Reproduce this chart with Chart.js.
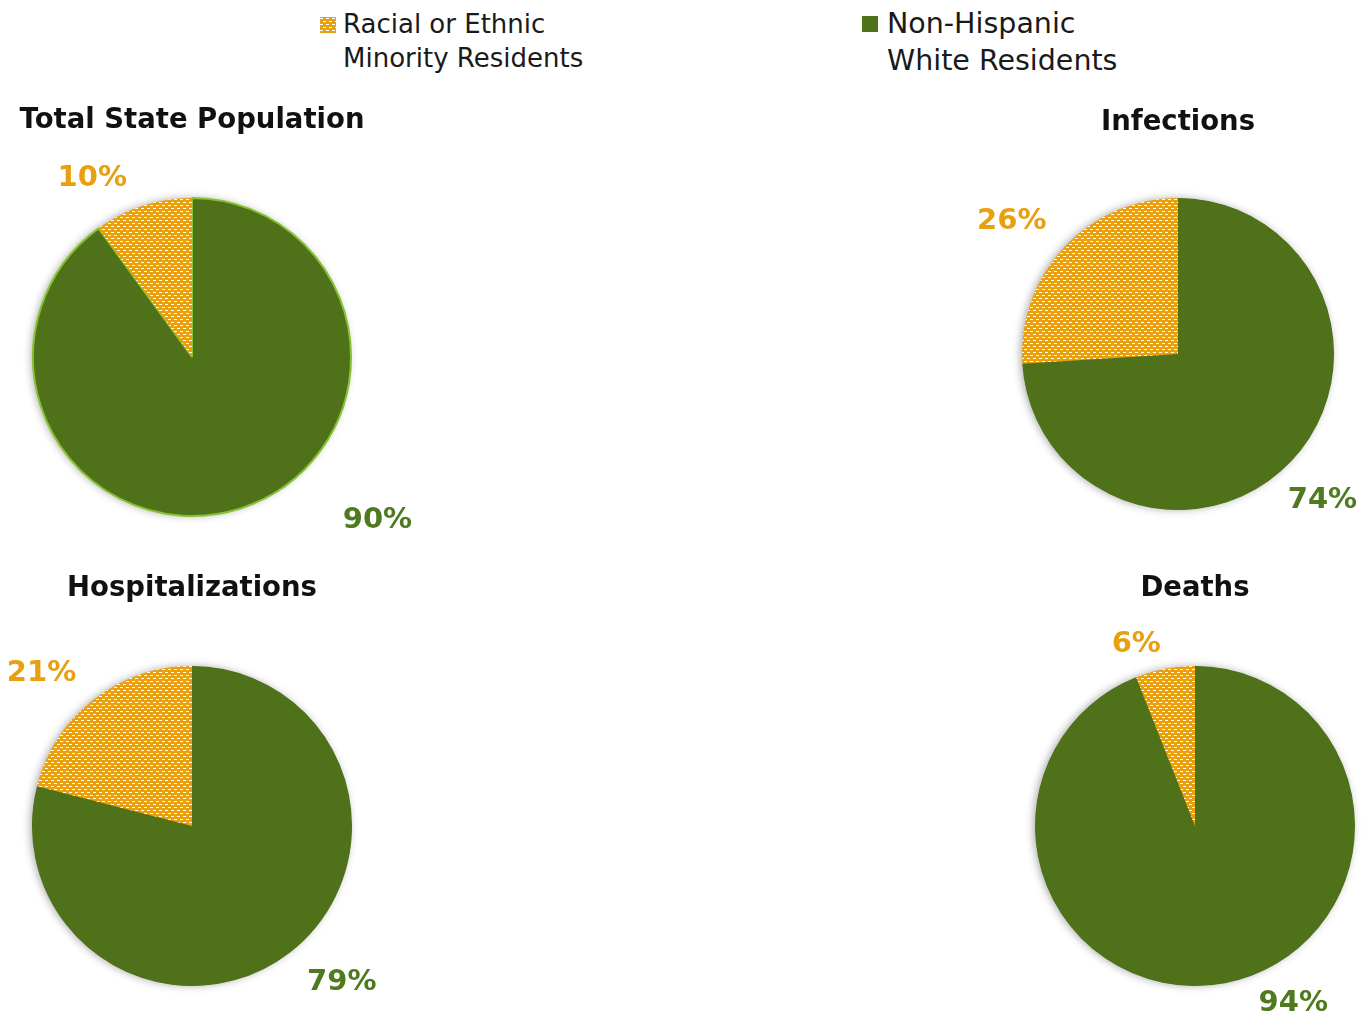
<!DOCTYPE html>
<html>
<head>
<meta charset="utf-8">
<script src="https://cdn.jsdelivr.net/npm/chart.js@4"></script>
<style>
  html, body { margin: 0; padding: 0; background: #fff; }
  body { width: 1364px; height: 1015px; position: relative; overflow: hidden; font-family: "DejaVu Sans", Verdana, sans-serif; }
  .panel { position: absolute; }
  .legend-item { position: absolute; font-size: 26px; line-height: 34px; color: #1a1a1a; }
  .legend-box { position: absolute; width: 16px; height: 16px; }
</style>
</head>
<body>
<div class="legend-box" id="swatchMinority" style="left:320px; top:17px;"></div>
<div class="legend-item" id="legMinority" style="left:343px; top:7px;"></div>
<div class="legend-box" id="swatchWhite" style="left:862px; top:16px; background:#4e7119;"></div>
<div class="legend-item" id="legWhite" style="left:887px; top:5px; font-size:28.5px; line-height:37px;"></div>

<div class="panel" style="left:0; top:90px;"><canvas id="pie0"></canvas></div>
<div class="panel" style="left:682px; top:90px;"><canvas id="pie1"></canvas></div>
<div class="panel" style="left:0; top:560px;"><canvas id="pie2"></canvas></div>
<div class="panel" style="left:682px; top:560px;"><canvas id="pie3"></canvas></div>

<script>
// ---- data ----
const seriesNames = ['Non-Hispanic White Residents', 'Racial or Ethnic Minority Residents'];
const legendLines = [['Racial or Ethnic', 'Minority Residents'], ['Non-Hispanic', 'White Residents']];
const panelTitles = ['Total State Population', 'Infections', 'Hospitalizations', 'Deaths'];
const whiteShare = [90, 74, 79, 94];
const minorityShare = [10, 26, 21, 6];

// ---- look ----
const GREEN = '#4e7119';
const GREEN_TEXT = '#4f7a1e';
const ORANGE = '#e9a010';

// panel boxes (page px), pie centre / radius, title y, label spots (angle from top clockwise, distance)
const panels = [
    { left: 0,   top: 90,  w: 682, h: 470, cx: 192,  cy: 356, r: 160, titleY: 121, rim: true,
      spots: [[131.2, 248], [331, 207]] },
    { left: 682, top: 90,  w: 682, h: 470, cx: 1178, cy: 354, r: 156, titleY: 123,
      spots: [[135.2, 205], [308.7, 213]] },
    { left: 0,   top: 560, w: 682, h: 455, cx: 192,  cy: 826, r: 160, titleY: 589,
      spots: [[136.1, 216], [315.6, 215]] },
    { left: 682, top: 560, w: 682, h: 455, cx: 1195, cy: 826, r: 160, titleY: 589,
      spots: [[150.9, 202], [342.2, 192]] }
];

// dotted orange fill like the Excel pattern
function makePatternCanvas() {
    const c = document.createElement('canvas');
    c.width = 6; c.height = 6;
    const g = c.getContext('2d');
    g.fillStyle = ORANGE;
    g.fillRect(0, 0, 6, 6);
    g.fillStyle = '#ffffff';
    g.fillRect(0, 1, 3, 1);
    g.fillRect(3, 4, 3, 1);
    return c;
}
const patternCanvas = makePatternCanvas();
const pattern = document.createElement('canvas').getContext('2d').createPattern(patternCanvas, 'repeat');

document.getElementById('swatchMinority').style.background = 'url(' + patternCanvas.toDataURL() + ')';
document.getElementById('legMinority').innerHTML = legendLines[0].join('<br>');
document.getElementById('legWhite').innerHTML = legendLines[1].join('<br>');

// shadow disc behind each pie, titles and outside labels
const piePlugin = {
    id: 'pieExtras',
    beforeDatasetsDraw(chart) {
        const arc = chart.getDatasetMeta(0).data[0];
        if (!arc) return;
        const ctx = chart.ctx;
        ctx.save();
        ctx.shadowColor = 'rgba(0,0,0,0.35)';
        ctx.shadowBlur = 8;
        ctx.shadowOffsetX = -2;
        ctx.fillStyle = GREEN;
        ctx.beginPath();
        ctx.arc(arc.x, arc.y, arc.outerRadius - 0.5, 0, Math.PI * 2);
        ctx.fill();
        ctx.restore();
    },
    afterDatasetsDraw(chart, args, opts) {
        const p = opts.panel;
        const arcs = chart.getDatasetMeta(0).data;
        const ctx = chart.ctx;
        ctx.save();
        ctx.textAlign = 'center';
        ctx.textBaseline = 'middle';
        ctx.fillStyle = '#111';
        ctx.font = 'bold 27.5px "DejaVu Sans"';
        ctx.fillText(opts.title, arcs[0].x, p.titleY - p.top);
        ctx.font = 'bold 29px "DejaVu Sans"';
        arcs.forEach((a, i) => {
            const ang = p.spots[i][0] * Math.PI / 180;
            const d = p.spots[i][1] * a.outerRadius / p.r;
            ctx.fillStyle = i === 0 ? GREEN_TEXT : ORANGE;
            const v = chart.data.datasets[0].data[i];
            ctx.fillText(v + '%', a.x + Math.sin(ang) * d, a.y - Math.cos(ang) * d + 1);
        });
        ctx.restore();
    }
};

const charts = panels.map((p, k) => {
    const canvas = document.getElementById('pie' + k);
    canvas.parentElement.style.width = p.w + 'px';
    canvas.parentElement.style.height = p.h + 'px';
    const bw = p.rim ? 2 : 0;
    return new Chart(canvas.getContext('2d'), {
        type: 'pie',
        data: {
            labels: seriesNames,
            datasets: [{
                data: [whiteShare[k], minorityShare[k]],
                backgroundColor: [GREEN, pattern],
                borderColor: p.rim ? ['#86c232', pattern] : '#ffffff',
                borderWidth: [bw, 0],
                hoverOffset: 0,
                offset: 0
            }]
        },
        options: {
            responsive: true,
            maintainAspectRatio: false,
            animation: false,
            events: [],
            layout: {
                padding: {
                    left: p.cx - p.r - p.left,
                    top: p.cy - p.r - p.top,
                    right: p.left + p.w - (p.cx + p.r),
                    bottom: p.top + p.h - (p.cy + p.r) - bw
                }
            },
            plugins: {
                legend: { display: false },
                tooltip: { enabled: false },
                title: { display: false },
                pieExtras: { panel: p, title: panelTitles[k] }
            }
        },
        plugins: [piePlugin]
    });
});
</script>
</body>
</html>
